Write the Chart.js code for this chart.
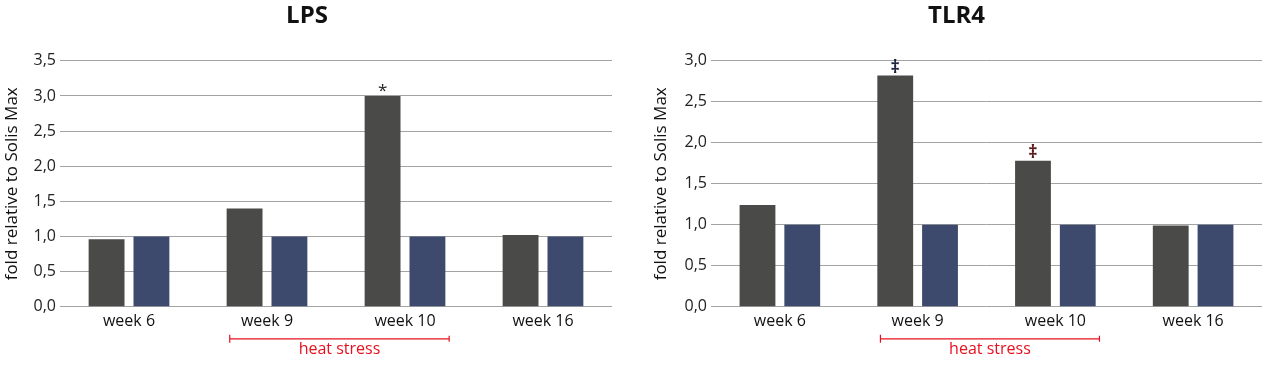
<!DOCTYPE html>
<html>
<head>
<meta charset="utf-8">
<script src="https://cdn.jsdelivr.net/npm/chart.js@4.4.0/dist/chart.umd.min.js"></script>
<style>
  html, body { margin: 0; padding: 0; background: #fff; }
  .wrap { display: flex; width: 1274px; height: 366px; }
  canvas { display: block; }
</style>
</head>
<body>
<div class="wrap">
  <canvas id="lpsChart" width="637" height="366"></canvas>
  <canvas id="tlrChart" width="637" height="366"></canvas>
</div>
<script>
const weeks = ['week 6', 'week 9', 'week 10', 'week 16'];

const lpsHeat = [0.96, 1.40, 3.00, 1.02];
const lpsControl = [1.00, 1.00, 1.00, 1.00];
const lpsMarks = ['', '', '*', ''];
const lpsTicks = [0, 0.5, 1, 1.5, 2, 2.5, 3, 3.5];

const tlrHeat = [1.24, 2.82, 1.78, 0.99];
const tlrControl = [1.00, 1.00, 1.00, 1.00];
const tlrMarks = ['', '‡', '‡', ''];
const tlrMarkColors = ['', '#1c2440', '#5c1b1b', ''];
const tlrTicks = [0, 0.5, 1, 1.5, 2, 2.5, 3];

const heatStressRange = [0.73, 2.32];

const FONT = '"Open Sans", "Noto Sans", sans-serif';
const fmt = v => v.toFixed(1).replace('.', ',');

// star / double dagger above the heat bars + heat stress bracket under the axis
const markPlugin = {
    id: 'marks',
    afterDatasetsDraw(chart, args, opts) {
        const ctx = chart.ctx;
        const meta = chart.getDatasetMeta(0);
        ctx.save();
        ctx.textAlign = 'center';
        ctx.textBaseline = 'bottom';
        opts.marks.forEach((m, i) => {
            if (!m) return;
            const bar = meta.data[i];
            ctx.fillStyle = (opts.colors && opts.colors[i]) || '#222';
            ctx.font = (m === '*' ? '17px ' : 'bold 18px ') + FONT;
            ctx.fillText(m, bar.x, bar.y + (m === '*' ? 4 : 1));
        });

        const x = chart.scales.x;
        const x1 = x.getPixelForValue(heatStressRange[0]);
        const x2 = x.getPixelForValue(heatStressRange[1]);
        const y = chart.chartArea.bottom + 32;
        ctx.strokeStyle = '#e8101e';
        ctx.lineWidth = 1.2;
        ctx.beginPath();
        ctx.moveTo(x1, y); ctx.lineTo(x2, y);
        ctx.moveTo(x1, y - 4); ctx.lineTo(x1, y + 4);
        ctx.moveTo(x2, y - 3); ctx.lineTo(x2, y + 3);
        ctx.stroke();
        ctx.fillStyle = '#e8101e';
        ctx.font = '16px ' + FONT;
        ctx.textBaseline = 'top';
        ctx.fillText('heat stress', (x1 + x2) / 2, y + 3);
        ctx.restore();
    }
};

function makeChart(id, title, heat, control, ticks, marks, colors, pad, yWidth) {
    const max = ticks[ticks.length - 1];
    return new Chart(document.getElementById(id), {
        type: 'bar',
        data: {
            labels: weeks,
            datasets: [
                { data: heat, backgroundColor: '#4a4a48', categoryPercentage: 0.65, barPercentage: 0.8 },
                { data: control, backgroundColor: '#3d4a6e', categoryPercentage: 0.65, barPercentage: 0.8 }
            ]
        },
        options: {
            responsive: false,
            animation: false,
            layout: { padding: pad },
            plugins: {
                legend: { display: false },
                tooltip: { enabled: false },
                title: {
                    display: true, text: title, color: '#111',
                    font: { family: FONT, size: 24, weight: 'bold' },
                    padding: { top: 2, bottom: 30 }
                },
                marks: { marks: marks, colors: colors }
            },
            scales: {
                x: {
                    grid: { display: false },
                    border: { display: false },
                    ticks: { color: '#111', font: { family: FONT, size: 16 }, padding: -3 }
                },
                y: {
                    min: 0, max: max,
                    afterBuildTicks: s => { s.ticks = ticks.map(v => ({ value: v })); },
                    afterFit: s => { s.width = yWidth; },
                    grid: { color: '#a3a3a3', lineWidth: 1, drawTicks: false },
                    border: { display: false },
                    ticks: { color: '#222', font: { family: FONT, size: 16 }, padding: 4, callback: v => fmt(v) },
                    title: { display: true, text: 'fold relative to Solis Max', color: '#111', font: { family: FONT, size: 17 }, padding: 0 }
                }
            }
        },
        plugins: [markPlugin]
    });
}

makeChart('lpsChart', 'LPS', lpsHeat, lpsControl, lpsTicks, lpsMarks, null,
    { left: 2, right: 25, top: 0, bottom: 38 }, 58);
makeChart('tlrChart', 'TLR4', tlrHeat, tlrControl, tlrTicks, tlrMarks, tlrMarkColors,
    { left: 14, right: 12, top: 0, bottom: 38 }, 60);
</script>
</body>
</html>
